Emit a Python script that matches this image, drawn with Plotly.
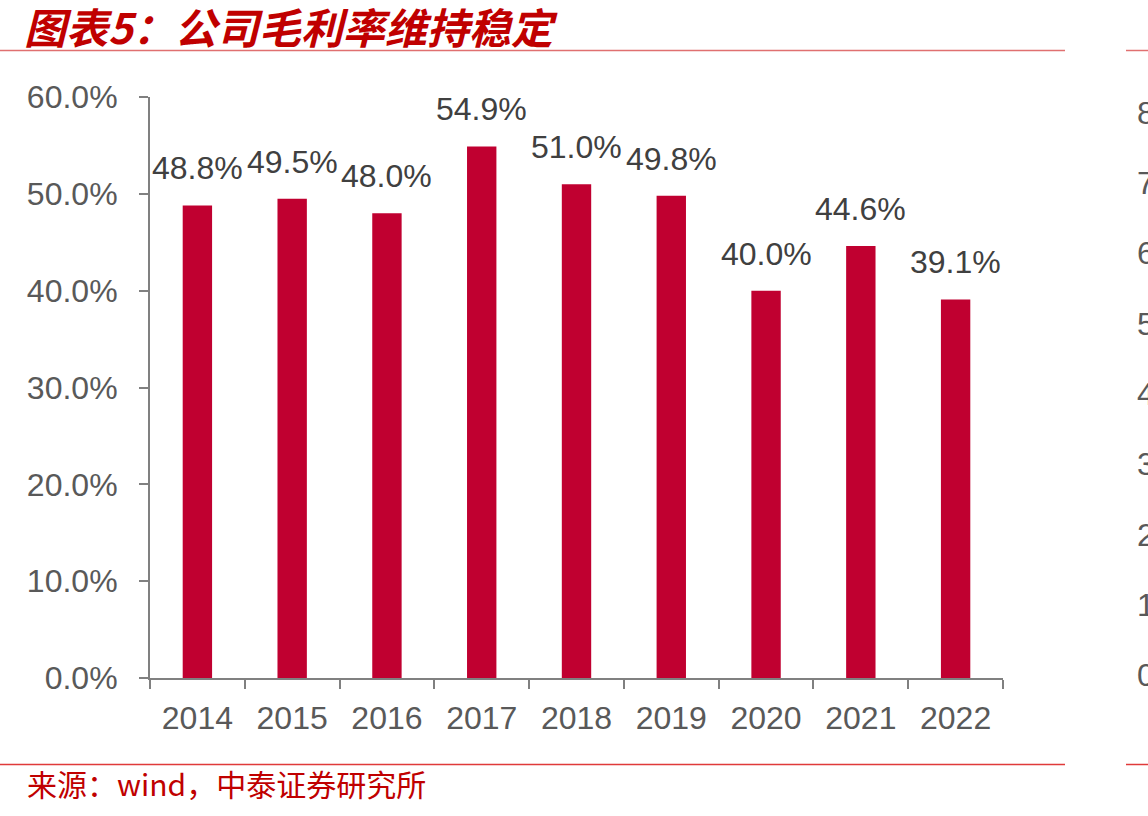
import plotly.graph_objects as go

years = ["2014", "2015", "2016", "2017", "2018", "2019", "2020", "2021", "2022"]
gross_margin = [48.8, 49.5, 48.0, 54.9, 51.0, 49.8, 40.0, 44.6, 39.1]
y_ticks = [0, 10, 20, 30, 40, 50, 60]
y_tick_labels = ["0.0%", "10.0%", "20.0%", "30.0%", "40.0%", "50.0%", "60.0%"]
right_chart_ticks = ["80%", "70%", "60%", "50%", "40%", "30%", "20%", "10%", "0%"]

title_text = "图表5：公司毛利率维持稳定"
source_text = "来源：wind，中泰证券研究所"

W, H = 1148, 816
L, R, T, B = 150, 1003, 97, 678

xpos = list(range(len(years)))
boundaries = [i - 0.5 for i in range(len(years) + 1)]


def px_x(px):
    return (px - L) / (R - L)


def px_y(py):
    return (B - py) / (B - T)


fig = go.Figure()
fig.add_trace(go.Bar(
    x=xpos, y=gross_margin, width=0.31,
    marker=dict(color="#C00030", line=dict(width=0)),
    hoverinfo="skip",
))

for xi, v in zip(xpos, gross_margin):
    fig.add_annotation(
        x=xi, y=v, xref="x", yref="y", text=f"{v:.1f}%",
        showarrow=False, yanchor="middle", xanchor="center", yshift=37,
        font=dict(family="Liberation Sans, Arial", size=32, color="#404040"),
    )

# title and source
fig.add_annotation(
    x=px_x(22), y=px_y(25), xref="paper", yref="paper", text=f"<b><i>{title_text}</i></b>",
    showarrow=False, xanchor="left", yanchor="middle",
    font=dict(family="Noto Sans CJK SC", size=42, color="#C00000"),
)
fig.add_annotation(
    x=px_x(25), y=px_y(783), xref="paper", yref="paper", text=source_text,
    showarrow=False, xanchor="left", yanchor="middle",
    font=dict(family="Noto Sans CJK SC", size=30, color="#C00000"),
)

# partial neighbouring chart tick labels at the right edge
for i, t in enumerate(right_chart_ticks):
    fig.add_annotation(
        x=px_x(1135), y=px_y(113 + i * 70.25), xref="paper", yref="paper", text=t,
        showarrow=False, xanchor="left", yanchor="middle",
        font=dict(family="Liberation Sans, Arial", size=32, color="#595959"),
    )

# decorative rules
for (x0, x1) in [(0, 1065), (1126, W)]:
    fig.add_shape(type="line", xref="paper", yref="paper",
                  x0=px_x(x0), x1=px_x(x1), y0=px_y(50.5), y1=px_y(50.5),
                  line=dict(color="#E07070", width=1.5))
    fig.add_shape(type="line", xref="paper", yref="paper",
                  x0=px_x(x0), x1=px_x(x1), y0=px_y(764.5), y1=px_y(764.5),
                  line=dict(color="#E03A3A", width=1.5))

fig.update_layout(
    width=W, height=H,
    margin=dict(l=L, r=W - R, t=T, b=H - B, pad=0),
    paper_bgcolor="white", plot_bgcolor="white",
    showlegend=False,
    font=dict(family="Liberation Sans, Arial", size=32, color="#595959"),
)
fig.update_xaxes(
    range=[-0.5, len(years) - 0.5], tickvals=xpos, ticktext=years, tickangle=0,
    showline=True, linecolor="#808080", linewidth=2,
    ticks="", tickfont=dict(size=32, color="#595959"), ticklabelstandoff=11,
    minor=dict(tickvals=boundaries, ticks="outside", ticklen=9, tickwidth=2,
               tickcolor="#808080", showgrid=False),
    showgrid=False, zeroline=False,
)
fig.update_yaxes(
    range=[0, 60], tickvals=y_ticks, ticktext=y_tick_labels,
    showline=True, linecolor="#808080", linewidth=2,
    ticks="outside", ticklen=9, tickwidth=2, tickcolor="#808080",
    tickfont=dict(size=32, color="#595959"), ticklabelstandoff=15,
    showgrid=False, zeroline=False,
)

fig.write_html("out.html")
